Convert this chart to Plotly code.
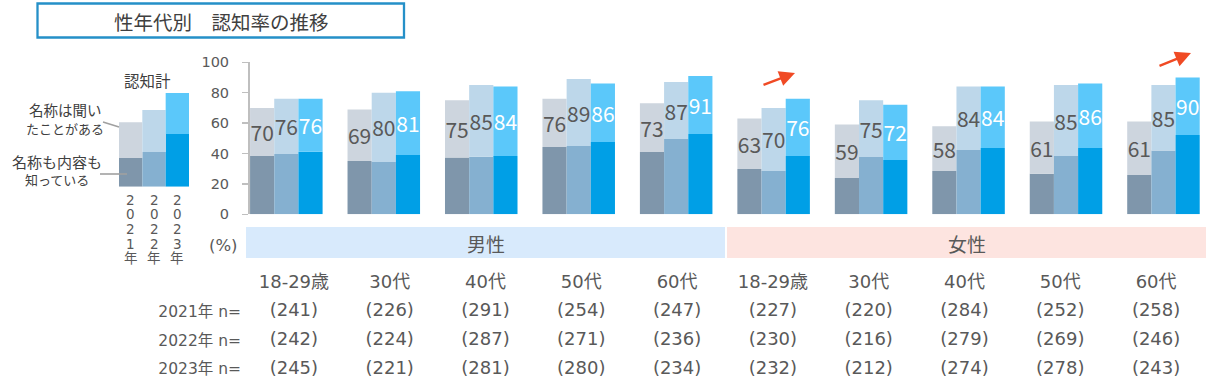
import plotly.graph_objects as go

W, H = 1218, 391
FONT = "'Noto Sans CJK JP', sans-serif"
LFONT = "'DejaVu Sans', 'Noto Sans CJK JP', sans-serif"
GRAY = "#595959"
DARK = "#404040"

# ---------------- data ----------------
categories = ["M18-29", "M30", "M40", "M50", "M60", "F18-29", "F30", "F40", "F50", "F60"]
age_labels = ["18-29歳", "30代", "40代", "50代", "60代", "18-29歳", "30代", "40代", "50代", "60代"]
genders = ["男性", "女性"]
years = ["2021年", "2022年", "2023年"]

# 認知計 (total awareness, labelled)
total_2021 = [70, 69, 75, 76, 73, 63, 59, 58, 61, 61]
total_2022 = [76, 80, 85, 89, 87, 70, 75, 84, 85, 85]
total_2023 = [76, 81, 84, 86, 91, 76, 72, 84, 86, 90]
# 名称も内容も知っている (lower segment, estimated)
know_2021 = [38.4, 35.1, 37.3, 44.3, 41.0, 29.8, 23.9, 28.5, 26.7, 25.9]
know_2022 = [39.7, 34.4, 37.9, 44.9, 49.5, 28.5, 37.7, 42.3, 38.4, 41.9]
know_2023 = [41.2, 39.0, 38.4, 47.6, 52.8, 38.4, 35.7, 43.6, 43.6, 52.2]
# sample sizes
n_2021 = [241, 226, 291, 254, 247, 227, 220, 284, 252, 258]
n_2022 = [242, 224, 287, 271, 236, 230, 216, 279, 269, 246]
n_2023 = [245, 221, 281, 280, 234, 232, 212, 274, 278, 243]
n_row_labels = ["2021年 n=", "2022年 n=", "2023年 n="]

# legend illustration (schematic) bars
legend_know = [18.9, 22.8, 34.7]
legend_total = [42.4, 50.5, 61.6]
legend_year_text = ["2021年", "2022年", "2023年"]

y_ticks = [0, 20, 40, 60, 80, 100]

# ---------------- styles ----------------
col_know = ["#7f96ab", "#85b0d0", "#009fe6"]
col_heard = ["#cdd5de", "#bdd7ea", "#5bc8fa"]
label_col = [GRAY, GRAY, "#ffffff"]

totals = [total_2021, total_2022, total_2023]
knows = [know_2021, know_2022, know_2023]
ns = [n_2021, n_2022, n_2023]


def px(x):
    return x / W


def py(y):
    return 1 - y / H


fig = go.Figure()

# main grouped-stacked bars
for i, yr in enumerate(years):
    fig.add_trace(go.Bar(
        x=categories, y=knows[i], offsetgroup=yr, name=yr,
        marker=dict(color=col_know[i], line=dict(width=0)),
        xaxis="x", yaxis="y", hoverinfo="skip", showlegend=False))
    heard = [t - k for t, k in zip(totals[i], knows[i])]
    fig.add_trace(go.Bar(
        x=categories, y=heard, base=knows[i], offsetgroup=yr, name=yr,
        marker=dict(color=col_heard[i], line=dict(width=0)),
        text=[str(t) for t in totals[i]], textposition="inside",
        insidetextanchor="middle", textangle=0, constraintext="none",
        textfont=dict(family=FONT, size=21, color=label_col[i]),
        xaxis="x", yaxis="y", hoverinfo="skip", showlegend=False))

# legend illustration bars
fig.add_trace(go.Bar(
    x=legend_year_text, y=legend_know, width=1, offset=-0.5,
    marker=dict(color=col_know, line=dict(width=0)),
    xaxis="x2", yaxis="y2", hoverinfo="skip", showlegend=False))
fig.add_trace(go.Bar(
    x=legend_year_text, y=[t - k for t, k in zip(legend_total, legend_know)],
    base=legend_know, width=1, offset=-0.5,
    marker=dict(color=col_heard, line=dict(width=0)),
    xaxis="x2", yaxis="y2", hoverinfo="skip", showlegend=False))

# table below chart (age labels + n)
fig.add_trace(go.Scatter(
    x=categories, y=["age"] * len(categories), mode="text", text=age_labels,
    textfont=dict(family=LFONT, size=18, color=GRAY),
    xaxis="x3", yaxis="y3", hoverinfo="skip", showlegend=False))
for i, lab in enumerate(n_row_labels):
    fig.add_trace(go.Scatter(
        x=categories, y=[lab] * len(categories), mode="text",
        text=[f"({v})" for v in ns[i]],
        textfont=dict(family=LFONT, size=18, color=GRAY),
        xaxis="x3", yaxis="y3", hoverinfo="skip", showlegend=False))

shapes = [
    # title box
    dict(type="rect", xref="paper", yref="paper", x0=px(37.5), x1=px(404), y0=py(37.5), y1=py(3.5),
         line=dict(color="#2590c8", width=2.3), fillcolor="rgba(0,0,0,0)"),
    # gender bands
    dict(type="rect", xref="paper", yref="paper", x0=px(246), x1=px(725), y0=py(258), y1=py(227),
         line=dict(width=0), fillcolor="#d8eafc", layer="below"),
    dict(type="rect", xref="paper", yref="paper", x0=px(727), x1=px(1206), y0=py(258), y1=py(227),
         line=dict(width=0), fillcolor="#fde4e0", layer="below"),
    # legend leader lines
    dict(type="line", xref="paper", yref="paper", x0=px(103), y0=py(122), x1=px(119), y1=py(127),
         line=dict(color="#a0a0a0", width=1.6)),
    dict(type="line", xref="paper", yref="paper", x0=px(100), y0=py(174), x1=px(127), y1=py(174),
         line=dict(color="#a0a0a0", width=1.6)),
]


def note(text, x, y, size, color=DARK, family=FONT, xanchor="center"):
    return dict(text=text, xref="paper", yref="paper", x=px(x), y=py(y),
                xanchor=xanchor, yanchor="middle", showarrow=False,
                font=dict(family=family, size=size, color=color))


annotations = [
    note("性年代別　認知率の推移", 221, 21, 19.5),
    note("(%)", 223, 245, 16.5, GRAY, LFONT),
    note(genders[0], (246 + 725) / 2, 243, 19, GRAY),
    note(genders[1], (727 + 1206) / 2, 243, 19, GRAY),
    note("認知計", 147, 80, 15.5),
    note("名称は聞い", 65, 110, 14.5),
    note("たことがある", 65, 128, 13),
    note("名称も内容も", 57, 161, 15),
    note("知っている", 57, 179, 13),
    # red trend arrows
    dict(text="", xref="paper", yref="paper", x=px(795), y=py(73), ax=-33, ay=12.5,
         showarrow=True, arrowhead=2, arrowsize=1.25, arrowwidth=2.5, arrowcolor="#f04a24", standoff=0),
    dict(text="", xref="paper", yref="paper", x=px(1191), y=py(53), ax=-33, ay=13.5,
         showarrow=True, arrowhead=2, arrowsize=1.25, arrowwidth=2.5, arrowcolor="#f04a24", standoff=0),
]

# vertical year labels below legend bars (one char per line, tight spacing)
for yr in legend_year_text:
    for j, ch in enumerate(yr):
        annotations.append(dict(
            text=ch, xref="x2", yref="paper", x=yr, y=py(200 + j * 14.5),
            xanchor="center", yanchor="middle",
            showarrow=False, font=dict(family=LFONT, size=13.5, color=GRAY)))

fig.update_layout(
    width=W, height=H,
    margin=dict(l=0, r=0, t=0, b=0, pad=0, autoexpand=False),
    paper_bgcolor="white", plot_bgcolor="rgba(0,0,0,0)",
    barmode="group", bargap=0.256, bargroupgap=0,
    showlegend=False,
    font=dict(family=FONT, color=GRAY),
    xaxis=dict(domain=[px(237.6), px(1212.2)], type="category", categoryarray=categories,
               visible=False, anchor="y"),
    yaxis=dict(domain=[py(214.3), py(62.3)], range=[0, 100], tickvals=y_ticks,
               anchor="free", position=px(249), showline=True, linecolor="#bfbfbf", linewidth=2,
               ticks="outside", ticklen=6, tickwidth=1.5, tickcolor="#bfbfbf",
               ticklabelstandoff=10, showgrid=False, zeroline=False, automargin=False,
               tickfont=dict(family=LFONT, size=14.5, color=GRAY)),
    xaxis2=dict(domain=[px(119), px(189)], type="category", categoryarray=legend_year_text,
                visible=False, anchor="y2"),
    yaxis2=dict(domain=[py(186.7), py(34.7)], range=[0, 100], visible=False, anchor="x2"),
    xaxis3=dict(domain=[px(246), px(1204)], type="category", categoryarray=categories,
                visible=False, anchor="y3", range=[-0.5, 9.5]),
    yaxis3=dict(domain=[py(383.3), py(269)], type="category",
                categoryarray=list(reversed(n_row_labels)) + ["age"],
                range=[-0.5, 3.5], anchor="x3", tickvals=n_row_labels, ticktext=n_row_labels,
                showline=False, showgrid=False, zeroline=False, ticks="", automargin=False,
                ticklabelstandoff=4, tickfont=dict(family=LFONT, size=15.5, color=GRAY)),
    shapes=shapes,
    annotations=annotations,
)

fig.write_html("out.html", config={"displayModeBar": False, "staticPlot": True},
               post_script="document.body.style.margin='0px';")
